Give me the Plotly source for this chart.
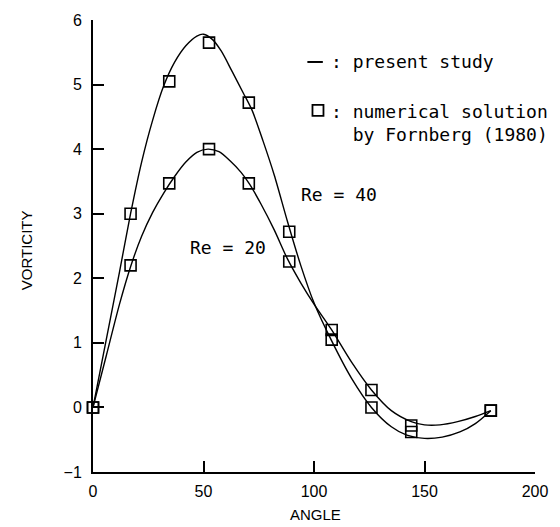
import plotly.graph_objects as go

# Fornberg (1980) numerical solution, surface vorticity vs angle
angle_fornberg = [0, 17, 34.5, 52.5, 70.5, 88.8, 108, 126, 144, 180]
vort_fornberg_re40 = [0, 3.0, 5.05, 5.65, 4.72, 2.72, 1.05, 0.0, -0.38, -0.05]
vort_fornberg_re20 = [0, 2.2, 3.47, 4.0, 3.47, 2.26, 1.2, 0.27, -0.28, -0.05]

# present study, Re = 40
angle_re40 = [0, 6, 12, 17, 22, 27, 32, 37, 42, 47, 50, 54, 58, 63, 68, 72,
              77, 82, 88, 94, 100, 108, 117, 126, 135, 142, 150, 158, 166,
              173, 180]
vort_re40 = [0, 1.05, 2.1, 3.0, 3.8, 4.45, 4.98, 5.35, 5.6, 5.75, 5.78, 5.7,
             5.52, 5.2, 4.87, 4.6, 4.12, 3.6, 2.88, 2.2, 1.62, 1.03, 0.45,
             0.0, -0.3, -0.43, -0.48, -0.46, -0.38, -0.25, -0.05]

# present study, Re = 20
angle_re20 = [0, 6, 12, 17, 22, 27, 32, 37, 42, 47, 52, 57, 62, 67, 71, 76,
              82, 88, 94, 100, 108, 117, 126, 135, 144, 150, 157, 165, 173,
              180]
vort_re20 = [0, 0.8, 1.6, 2.18, 2.65, 3.02, 3.32, 3.58, 3.8, 3.95, 4.0, 3.96,
             3.82, 3.64, 3.45, 3.15, 2.75, 2.3, 1.93, 1.6, 1.2, 0.7, 0.27,
             -0.05, -0.22, -0.27, -0.27, -0.22, -0.14, -0.05]

x_ticks = [0, 50, 100, 150, 200]
y_ticks = [-1, 0, 1, 2, 3, 4, 5, 6]

MONO = "DejaVu Sans Mono"
SANS = "Liberation Sans, Arial, sans-serif"

fig = go.Figure()

for ang, vort in ((angle_re40, vort_re40), (angle_re20, vort_re20)):
    fig.add_trace(go.Scatter(
        x=ang, y=vort, mode="lines",
        line=dict(color="black", width=1.4, shape="spline", smoothing=0.8),
        showlegend=False, hoverinfo="skip", cliponaxis=False))

for vort in (vort_fornberg_re40, vort_fornberg_re20):
    fig.add_trace(go.Scatter(
        x=angle_fornberg, y=vort, mode="markers",
        marker=dict(symbol="square-open", size=11, color="black",
                    line=dict(width=1.6, color="black")),
        showlegend=False, hoverinfo="skip", cliponaxis=False))

# key: line sample and square sample
fig.add_shape(type="line", x0=97, x1=104, y0=5.35, y1=5.35,
              line=dict(color="black", width=2))
fig.add_trace(go.Scatter(
    x=[101.8], y=[4.6], mode="markers",
    marker=dict(symbol="square-open", size=11, color="black",
                line=dict(width=1.8, color="black")),
    showlegend=False, hoverinfo="skip", cliponaxis=False))

fig.add_annotation(x=106.9, y=5.35, text=": present study", showarrow=False,
                   xanchor="left", yanchor="middle",
                   font=dict(family=MONO, size=18, color="black"))
fig.add_annotation(x=106.9, y=4.6, text=": numerical solution<br>"
                   "\u00a0\u00a0by Fornberg (1980)",
                   showarrow=False, xanchor="left", yanchor="top",
                   yshift=11, align="left",
                   font=dict(family=MONO, size=18, color="black"))

for x, y, txt in ((93.1, 3.29, "Re = 40"), (43.0, 2.47, "Re = 20")):
    fig.add_annotation(x=x, y=y, text=txt, showarrow=False,
                       xanchor="left", yanchor="middle",
                       font=dict(family=MONO, size=18, color="black"))

fig.add_annotation(x=0.504, y=-0.095, xref="paper", yref="paper",
                   text="ANGLE", showarrow=False, xanchor="center",
                   yanchor="middle", font=dict(family=SANS, size=15, color="black"))
fig.add_annotation(x=-0.15, y=0.49, xref="paper", yref="paper",
                   text="VORTICITY", showarrow=False, textangle=-90,
                   xanchor="center", yanchor="middle",
                   font=dict(family=SANS, size=15, color="black"))

axis_common = dict(
    showline=True, linecolor="black", linewidth=2,
    ticks="inside", ticklen=11, tickwidth=1.5, tickcolor="black",
    showgrid=False, zeroline=False,
    tickfont=dict(family=SANS, size=16, color="black"),
)

fig.update_xaxes(range=[0, 200], tickvals=x_ticks, ticklabelstandoff=4,
                 **axis_common)
fig.update_yaxes(range=[-1, 6], tickvals=y_ticks, ticklabelstandoff=6,
                 **axis_common)

fig.update_layout(
    width=560, height=527,
    margin=dict(l=93, r=16, t=20, b=55),
    plot_bgcolor="white", paper_bgcolor="white",
)

fig.write_html("out.html")
